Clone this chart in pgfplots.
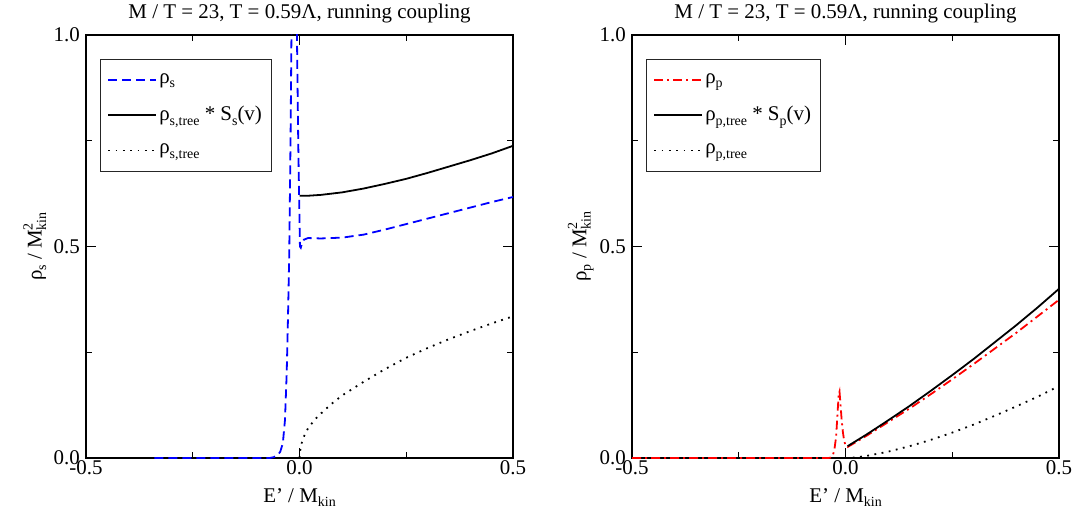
\documentclass[border=0pt]{standalone}
\usepackage{pgfplots}
\pgfplotsset{compat=1.18}
\usepackage{fontspec}
\setmainfont{Liberation Serif}
\newcommand\sub[1]{\raisebox{-0.45ex}{\fontsize{14}{14}\selectfont #1}}
\newcommand\sups[1]{\raisebox{0.95ex}{\fontsize{14}{14}\selectfont #1}}
\newcommand\Mkin{M\rlap{\sups{2}}\sub{kin}}
\begin{document}
\fontsize{21}{24}\selectfont
\begin{tikzpicture}
\useasboundingbox (-86bp,-61bp) rectangle (991bp,458bp);
\pgfplotsset{
  every axis title shift=0pt,
  myax/.style={
    scale only axis, width=427bp, height=423bp,
    font=\fontsize{21}{24}\selectfont,
    xmin=-0.5, xmax=0.5, ymin=0, ymax=1,
    xtick={-0.5,0,0.5}, ytick={0,0.5,1},
    xticklabels={-0.5,0.0,0.5}, yticklabels={0.0,0.5,1.0},
    minor xtick={-0.25,0.25}, minor ytick={0.25,0.75},
    tick align=inside, major tick length=10bp, minor tick length=6bp,
    every tick/.style={black, line width=1pt},
    axis line style={line width=1.4pt},
    xticklabel style={inner sep=2bp},
    yticklabel style={inner sep=3bp, xshift=-3bp},
    title style={at={(axis description cs:0.5,1)}, anchor=base, yshift=16bp},
    every axis x label/.style={at={(axis description cs:0.5,0)}, anchor=base, yshift=-44bp},
    every axis y label/.style={at={(axis description cs:-0.12,0.5)}, rotate=90, anchor=center},
    legend style={at={(axis description cs:0.033,0.943)}, anchor=north west,
      draw=black!85, line width=0.8pt, inner xsep=7bp, inner ysep=12bp,
      row sep=16bp, cells={anchor=west}, font=\fontsize{21}{24}\selectfont},
    legend image code/.code={\draw[##1] (0bp,0bp) -- (48bp,0bp);},
  },
  bdash/.style={blue, line width=1.8pt, dash pattern=on 9bp off 5bp},
  rdashdot/.style={red, line width=1.8pt, dash pattern=on 9bp off 4bp on 2bp off 4bp},
  ksolid/.style={black, line width=1.8pt},
  kdot/.style={black, line width=1.8pt, dash pattern=on 1.8pt off 5.5bp},
}
\begin{axis}[myax,
  title={M / T = 23, T = 0.59Λ, running coupling},
  xlabel={E’ / M\sub{kin}},
  ylabel={ρ\sub{s} / \Mkin}]
\addplot[bdash] coordinates {(-0.34,0) (-0.07,0) (-0.06,0.002) (-0.05,0.008) (-0.045,0.015) (-0.039,0.035) (-0.034,0.09) (-0.03,0.2) (-0.027,0.33) (-0.024,0.485) (-0.021,0.75) (-0.018,1.1) (-0.013,1.6) (-0.009,1.3) (-0.006,1.0) (-0.003,0.75) (0.001,0.5) (0.003,0.497) (0.006,0.508) (0.01,0.516) (0.02,0.52) (0.05,0.519) (0.1,0.521) (0.15,0.528) (0.2,0.54) (0.25,0.553) (0.3,0.566) (0.35,0.579) (0.4,0.592) (0.45,0.605) (0.5,0.617)};
\addlegendentry{ρ\sub{s}}
\addplot[ksolid] coordinates {(0,0.620) (0.02,0.620) (0.05,0.622) (0.1,0.628) (0.15,0.637) (0.2,0.648) (0.25,0.66) (0.3,0.674) (0.35,0.689) (0.4,0.704) (0.45,0.72) (0.5,0.738)};
\addlegendentry{ρ\sub{s,tree} * S\sub{s}(v)}
\addplot[kdot] coordinates {(0,0) (0.002,0.02) (0.005,0.035) (0.01,0.05) (0.02,0.07) (0.035,0.09) (0.05,0.105) (0.075,0.128) (0.1,0.148) (0.15,0.18) (0.2,0.21) (0.25,0.237) (0.3,0.26) (0.35,0.281) (0.4,0.30) (0.45,0.318) (0.5,0.335)};
\addlegendentry{ρ\sub{s,tree}}
\end{axis}
\begin{axis}[myax, at={(546bp,0bp)},
  title={M / T = 23, T = 0.59Λ, running coupling},
  xlabel={E’ / M\sub{kin}},
  ylabel={ρ\sub{p} / \Mkin}]
\addplot[rdashdot] coordinates {(-0.5,0) (-0.04,0) (-0.035,0.001) (-0.03,0.005) (-0.026,0.02) (-0.022,0.05) (-0.019,0.1) (-0.016,0.15) (-0.014,0.157) (-0.012,0.13) (-0.009,0.09) (-0.006,0.06) (-0.003,0.04) (0,0.03) (0.005,0.026) (0.05,0.053) (0.1,0.085) (0.15,0.117) (0.2,0.151) (0.25,0.186) (0.3,0.222) (0.35,0.259) (0.4,0.296) (0.45,0.335) (0.5,0.374)};
\addlegendentry{ρ\sub{p}}
\addplot[ksolid] coordinates {(0.005,0.028) (0.05,0.056) (0.1,0.089) (0.15,0.123) (0.2,0.159) (0.25,0.196) (0.3,0.234) (0.35,0.274) (0.4,0.314) (0.45,0.356) (0.5,0.40)};
\addlegendentry{ρ\sub{p,tree} * S\sub{p}(v)}
\addplot[kdot] coordinates {(0,0) (0.02,0.001) (0.05,0.005) (0.1,0.015) (0.15,0.028) (0.2,0.043) (0.25,0.06) (0.3,0.079) (0.35,0.1) (0.4,0.122) (0.45,0.145) (0.5,0.17)};
\addlegendentry{ρ\sub{p,tree}}
\end{axis}
\end{tikzpicture}
\end{document}
